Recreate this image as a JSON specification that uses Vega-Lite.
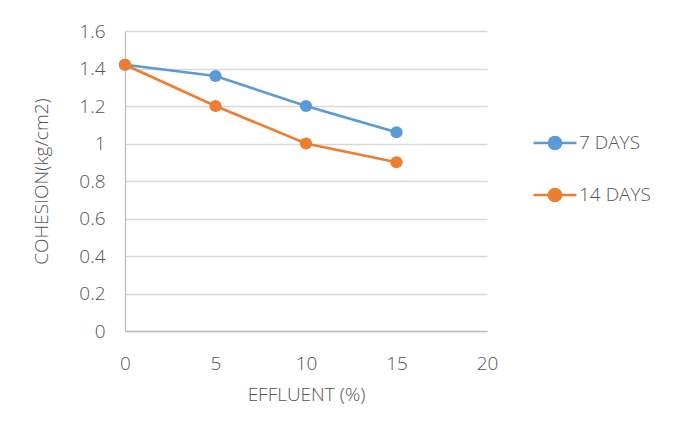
{
  "$schema": "https://vega.github.io/schema/vega-lite/v6.json",
  "width": 362,
  "height": 300,
  "autosize": {"type": "none"},
  "padding": {"left": 125, "top": 31, "right": 196, "bottom": 104},
  "background": "white",
  "config": {
    "view": {"stroke": null},
    "font": "Open Sans",
    "axis": {
      "labelFont": "Open Sans",
      "titleFont": "Open Sans",
      "labelFontWeight": 300,
      "titleFontWeight": 300,
      "labelColor": "#555555",
      "titleColor": "#555555",
      "labelFontSize": 19,
      "titleFontSize": 19,
      "gridColor": "#d9d9d9",
      "gridWidth": 1.3,
      "domainColor": "#bfbfbf",
      "domainWidth": 1.3,
      "ticks": false,
      "labelFlush": false
    },
    "legend": {
      "labelFont": "Open Sans",
      "labelFontWeight": 300,
      "labelColor": "#555555",
      "labelFontSize": 19
    }
  },
  "data": {
    "values": [
      {"effluent": 0, "cohesion": 1.42, "series": "7 DAYS"},
      {"effluent": 5, "cohesion": 1.36, "series": "7 DAYS"},
      {"effluent": 10, "cohesion": 1.2, "series": "7 DAYS"},
      {"effluent": 15, "cohesion": 1.06, "series": "7 DAYS"},
      {"effluent": 0, "cohesion": 1.42, "series": "14 DAYS"},
      {"effluent": 5, "cohesion": 1.2, "series": "14 DAYS"},
      {"effluent": 10, "cohesion": 1.0, "series": "14 DAYS"},
      {"effluent": 15, "cohesion": 0.9, "series": "14 DAYS"}
    ]
  },
  "mark": {"type": "line", "strokeWidth": 2.6, "point": {"filled": true, "size": 150, "opacity": 1}},
  "encoding": {
    "x": {
      "field": "effluent",
      "type": "quantitative",
      "scale": {"domain": [0, 20], "nice": false, "zero": false},
      "axis": {
        "title": "EFFLUENT (%)",
        "values": [0, 5, 10, 15, 20],
        "grid": false,
        "labelPadding": 23,
        "titlePadding": 12
      }
    },
    "y": {
      "field": "cohesion",
      "type": "quantitative",
      "scale": {"domain": [0, 1.6], "nice": false},
      "axis": {
        "title": "COHESION(kg/cm2)",
        "values": [0, 0.2, 0.4, 0.6, 0.8, 1, 1.2, 1.4, 1.6],
        "labelExpr": "format(datum.value, '~g')",
        "labelPadding": 20,
        "titlePadding": 27
      }
    },
    "color": {
      "field": "series",
      "type": "nominal",
      "sort": ["7 DAYS", "14 DAYS"],
      "scale": {"domain": ["7 DAYS", "14 DAYS"], "range": ["#5b9bd5", "#ed7d31"]},
      "legend": {
        "title": null,
        "orient": "none",
        "legendX": 407,
        "legendY": 89,
        "symbolType": "M -1 0 L 1 0 M 0.28 0 A 0.28 0.28 0 1 1 -0.28 0 A 0.28 0.28 0 1 1 0.28 0 Z",
        "symbolSize": 1849,
        "symbolStrokeWidth": 2.6,
        "labelOffset": 1,
        "rowPadding": 17,
        "encode": {
          "symbols": {"update": {"fill": {"scale": "color", "field": "value"}, "opacity": {"value": 1}}}
        }
      }
    }
  }
}
